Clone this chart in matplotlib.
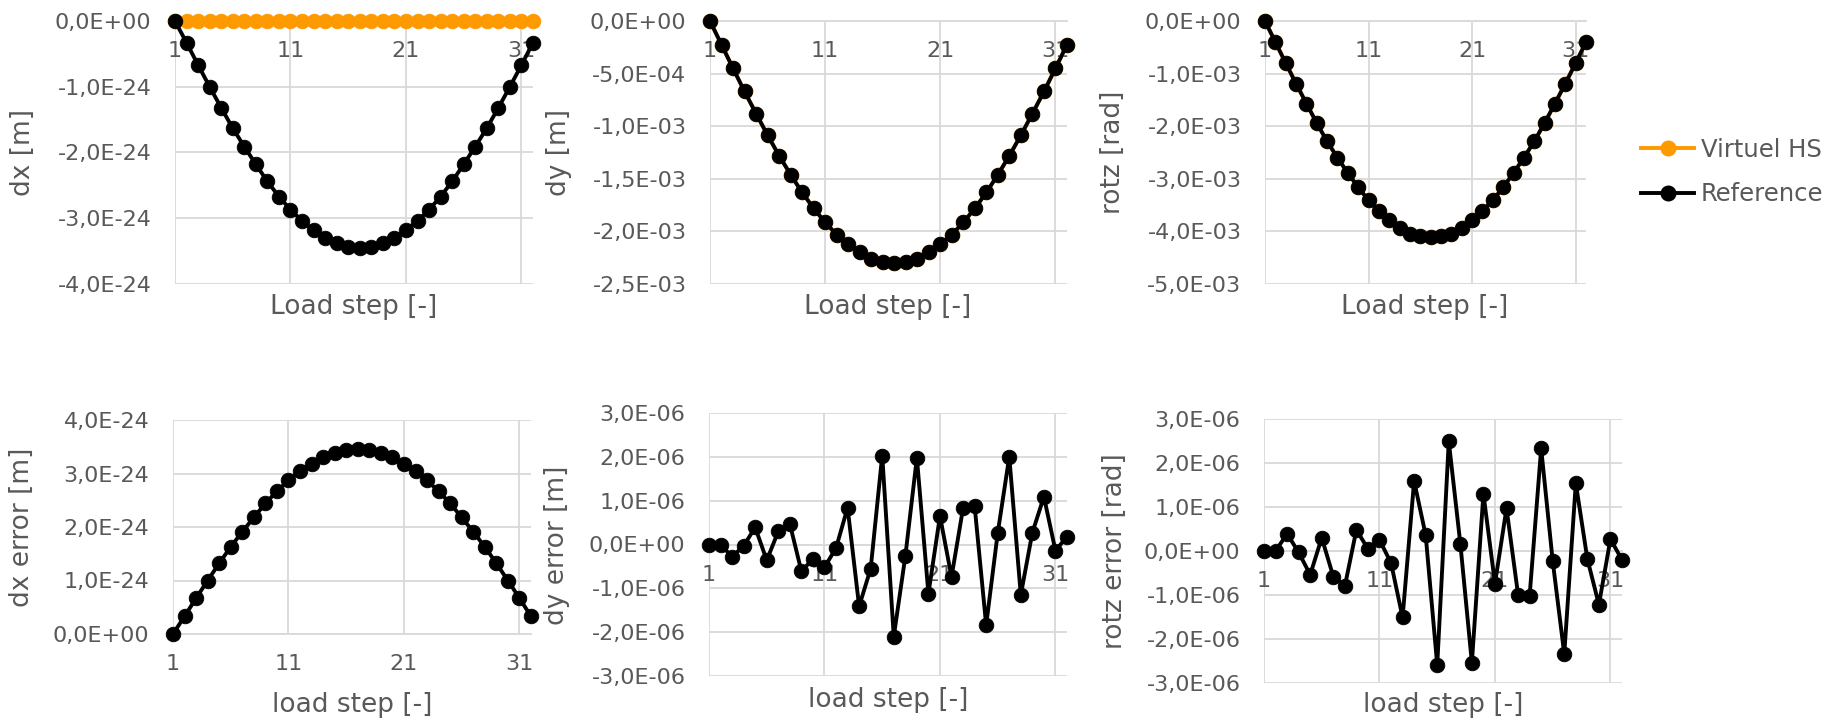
import numpy as np
import matplotlib
matplotlib.use("Agg")
import matplotlib.pyplot as plt
from matplotlib.ticker import FuncFormatter, FixedLocator
from matplotlib.lines import Line2D

plt.rcParams['font.family'] = ['DejaVu Sans']

# ---------------- data ----------------
steps = list(range(1, 33))
xticks = [1, 11, 21, 31]

ref_dx = [0, -0.33, -0.67, -1.00, -1.32, -1.63, -1.91, -2.18, -2.44, -2.67, -2.87, -3.04,
          -3.18, -3.30, -3.38, -3.43, -3.45, -3.43, -3.38, -3.30, -3.18, -3.04, -2.87, -2.67,
          -2.44, -2.18, -1.91, -1.63, -1.32, -1.00, -0.67, -0.33]            # x 1e-24 m
virt_dx = [0.0] * 32                                                          # x 1e-24 m

ref_dy = [0, -0.225, -0.45, -0.67, -0.88, -1.085, -1.28, -1.46, -1.63, -1.78, -1.915, -2.03,
          -2.12, -2.20, -2.26, -2.29, -2.30, -2.29, -2.26, -2.20, -2.12, -2.03, -1.915, -1.78,
          -1.63, -1.46, -1.28, -1.085, -0.88, -0.67, -0.45, -0.225]          # x 1e-3 m
virt_dy = [0, -0.225, -0.45, -0.67, -0.88, -1.085, -1.28, -1.46, -1.63, -1.78, -1.915, -2.03,
           -2.12, -2.20, -2.26, -2.29, -2.30, -2.29, -2.26, -2.20, -2.12, -2.03, -1.915, -1.78,
           -1.63, -1.46, -1.28, -1.085, -0.88, -0.67, -0.45, -0.225]

ref_rotz = [0, -0.40, -0.80, -1.19, -1.57, -1.94, -2.29, -2.60, -2.89, -3.16, -3.41, -3.61,
            -3.78, -3.93, -4.04, -4.09, -4.10, -4.09, -4.04, -3.93, -3.78, -3.61, -3.41, -3.16,
            -2.89, -2.60, -2.29, -1.94, -1.57, -1.19, -0.80, -0.40]         # x 1e-3 rad
virt_rotz = [0, -0.40, -0.80, -1.19, -1.57, -1.94, -2.29, -2.60, -2.89, -3.16, -3.41, -3.61,
             -3.78, -3.93, -4.04, -4.09, -4.10, -4.09, -4.04, -3.93, -3.78, -3.61, -3.41, -3.16,
             -2.89, -2.60, -2.29, -1.94, -1.57, -1.19, -0.80, -0.40]

err_dx = [0, 0.33, 0.67, 1.00, 1.32, 1.63, 1.91, 2.18, 2.44, 2.67, 2.87, 3.04,
          3.18, 3.30, 3.38, 3.43, 3.45, 3.43, 3.38, 3.30, 3.18, 3.04, 2.87, 2.67,
          2.44, 2.18, 1.91, 1.63, 1.32, 1.00, 0.67, 0.33]                    # x 1e-24 m

err_dy = [0, 0.0, -0.28, -0.03, 0.39, -0.36, 0.30, 0.47, -0.61, -0.33, -0.52, -0.08,
          0.84, -1.41, -0.55, 2.03, -2.10, -0.27, 1.98, -1.12, 0.65, -0.74, 0.83, 0.88,
          -1.84, 0.26, 2.00, -1.15, 0.27, 1.09, -0.14, 0.18]                 # x 1e-6 m

err_rotz = [0, 0.0, 0.39, -0.03, -0.54, 0.30, -0.58, -0.80, 0.48, 0.05, 0.25, -0.27,
            -1.51, 1.59, 0.36, -2.59, 2.49, 0.17, -2.54, 1.30, -0.74, 0.97, -0.99, -1.02,
            2.33, -0.23, -2.34, 1.54, -0.18, -1.22, 0.27, -0.20]             # x 1e-6 rad

# ---------------- style ----------------
W, H = 1825, 720
ORANGE = '#FF9900'
BLACK = '#000000'
GRID = '#D9D9D9'
TXT = '#595959'
TICK_FS = 16
LAB_FS = 19
LEG_FS = 17.5
LW = 2.8
MS = 10.5

fig = plt.figure(figsize=(W / 100, H / 100), dpi=100)


def add_axes(x0, y0, x1, y1):
    return fig.add_axes([x0 / W, 1 - y1 / H, (x1 - x0) / W, (y1 - y0) / H])


def sci_fmt(v, pos):
    if abs(v) < 1e-40:
        return "0,0E+00"
    exp = int(np.floor(np.log10(abs(v)) + 1e-9))
    m = round(v / 10 ** exp, 1)
    return f"{m:.1f}E{exp:+03d}".replace('.', ',')


def style(ax, ymin, ymax, nticks):
    ax.set_xlim(1, 32)
    ax.set_ylim(ymin, ymax)
    ax.xaxis.set_major_locator(FixedLocator(xticks))
    ax.yaxis.set_major_locator(FixedLocator(list(np.linspace(ymin, ymax, nticks))))
    ax.yaxis.set_major_formatter(FuncFormatter(sci_fmt))
    for s in ['top', 'right', 'left']:
        ax.spines[s].set_visible(False)
    ax.spines['bottom'].set_position(('data', 0))
    ax.spines['bottom'].set_color(GRID)
    ax.spines['bottom'].set_linewidth(1.3)
    ax.grid(True, color=GRID, linewidth=1.3)
    ax.tick_params(axis='both', length=0, labelsize=TICK_FS, labelcolor=TXT)
    ax.tick_params(axis='x', pad=14.5)
    ax.tick_params(axis='y', pad=17)
    ax.set_facecolor('none')


def plot_series(ax, y, color, scale, z=3):
    ax.plot(steps, [v * scale for v in y], color=color, linewidth=LW, marker='o',
            markersize=MS, markeredgewidth=0.6, markeredgecolor=color,
            clip_on=False, zorder=z)


def label(x, y, text, rot=0):
    fig.text(x / W, 1 - y / H, text, fontsize=LAB_FS, color=TXT, rotation=rot,
             ha='center', va='center')


# top-left dx
ax = add_axes(175, 21, 533, 284)
style(ax, -4e-24, 0, 5)
plot_series(ax, virt_dx, ORANGE, 1e-24, 3)
plot_series(ax, ref_dx, BLACK, 1e-24, 4)
label(23, 152, "dx [m]", 90)
label(354, 307, "Load step [-]")

# top-middle dy
ax = add_axes(710, 21, 1067, 284)
style(ax, -2.5e-3, 0, 6)
plot_series(ax, virt_dy, ORANGE, 1e-3, 3)
plot_series(ax, ref_dy, BLACK, 1e-3, 4)
label(559, 152, "dy [m]", 90)
label(888, 307, "Load step [-]")

# top-right rotz
ax = add_axes(1265, 21, 1586, 284)
style(ax, -5e-3, 0, 6)
plot_series(ax, virt_rotz, ORANGE, 1e-3, 3)
plot_series(ax, ref_rotz, BLACK, 1e-3, 4)
label(1113, 152, "rotz [rad]", 90)
label(1425, 307, "Load step [-]")

# bottom-left dx error
ax = add_axes(173, 420, 531, 634)
style(ax, 0, 4e-24, 5)
plot_series(ax, err_dx, BLACK, 1e-24, 4)
label(22, 527, "dx error [m]", 90)
label(352, 705, "load step [-]")

# bottom-middle dy error
ax = add_axes(709, 413, 1067, 676)
style(ax, -3e-6, 3e-6, 7)
plot_series(ax, err_dy, BLACK, 1e-6, 4)
label(557, 545, "dy error [m]", 90)
label(888, 700, "load step [-]")

# bottom-right rotz error
ax = add_axes(1264, 419, 1622, 683)
style(ax, -3e-6, 3e-6, 7)
plot_series(ax, err_rotz, BLACK, 1e-6, 4)
label(1115, 551, "rotz error [rad]", 90)
label(1443, 705, "load step [-]")

# legend
handles = [
    Line2D([], [], color=ORANGE, linewidth=LW, marker='o', markersize=MS),
    Line2D([], [], color=BLACK, linewidth=LW, marker='o', markersize=MS),
]
leg = fig.legend(handles, ["Virtuel HS", "Reference"], loc='center left',
                 bbox_to_anchor=(1641 / W, 1 - 172 / H), frameon=False,
                 fontsize=LEG_FS, handlelength=2.2, handletextpad=0.25,
                 labelspacing=0.85, borderpad=0, borderaxespad=0)
for t in leg.get_texts():
    t.set_color(TXT)

fig.savefig("out.png", dpi=100, facecolor='white')
